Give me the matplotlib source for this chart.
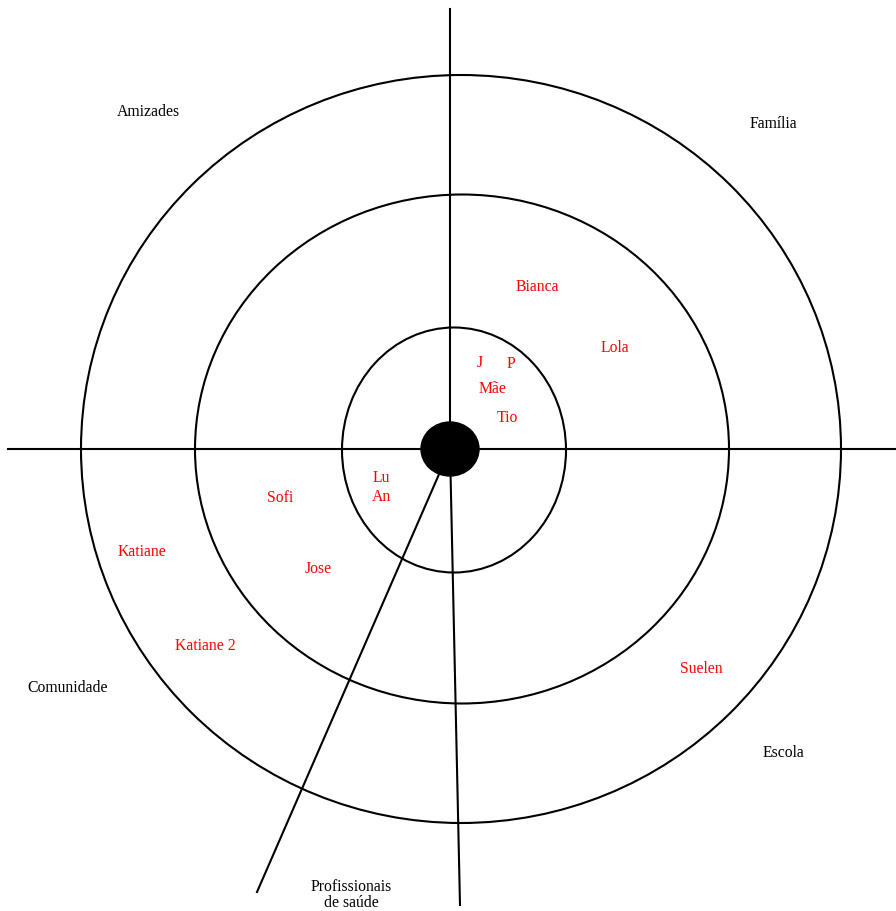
import matplotlib.pyplot as plt
from matplotlib.patches import Ellipse

# rings of the network map (centre x, centre y, width, height) in pixel units
ring_cx = [461, 462, 454]
ring_cy = [450, 450, 451]
ring_w = [760, 534, 224]
ring_h = [748, 509, 245]

# sector labels
sector_names = ['Amizades', 'Família', 'Comunidade', 'Escola', 'Profissionais\nde saúde']
sector_x = [148, 773, 68, 783, 351]
sector_y = [112, 124, 688, 753, 895]

# people placed on the map
people = ['Bianca', 'Lola', 'J', 'P', 'Mãe', 'Tio', 'Lu', 'An', 'Sofi',
          'Katiane', 'Jose', 'Katiane 2', 'Suelen']
people_x = [537, 615, 480, 511, 493, 507, 381, 381, 280, 142, 318, 205, 701]
people_y = [287, 348, 363, 364, 389, 418, 478, 497, 498, 552, 569, 646, 669]

# dividing lines (x0, y0, x1, y1)
div_lines = [(8, 450, 896, 450), (450, 10, 450, 450),
             (450, 450, 460, 906), (450, 450, 257, 893)]

plt.rcParams['font.family'] = ['Liberation Serif', 'DejaVu Serif']

fig = plt.figure(figsize=(8.96, 9.12), dpi=100)
ax = fig.add_axes([0, 0, 1, 1])
ax.set_xlim(0, 896)
ax.set_ylim(912, 0)
ax.axis('off')

for cx, cy, w, h in zip(ring_cx, ring_cy, ring_w, ring_h):
    ax.add_patch(Ellipse((cx, cy), w, h, fill=False, ec='black', lw=1.5))

for x0, y0, x1, y1 in div_lines:
    ax.plot([x0, x1], [y0, y1], color='black', lw=1.5)

ax.add_patch(Ellipse((450, 450), 58, 54, color='black', zorder=5))

for name, x, y in zip(sector_names, sector_x, sector_y):
    ax.text(x, y, name, ha='center', va='center', fontsize=11.3,
            color='black', linespacing=1.0)

for name, x, y in zip(people, people_x, people_y):
    ax.text(x, y, name, ha='center', va='center', fontsize=11.3, color='red')

plt.savefig('out.png', dpi=100)
